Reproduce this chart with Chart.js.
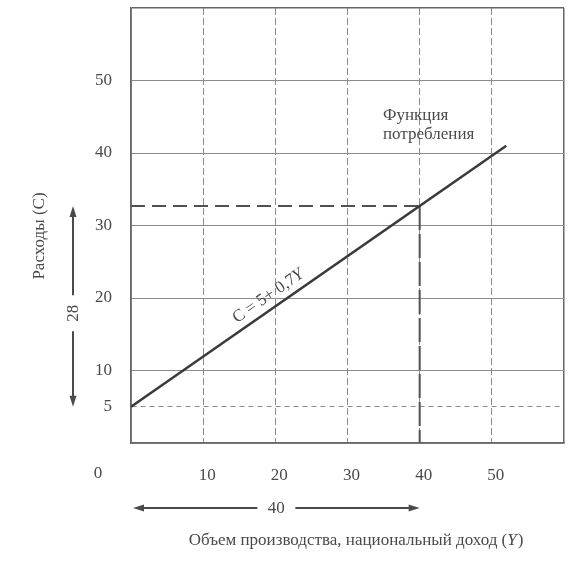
<!DOCTYPE html>
<html><head><meta charset="utf-8">
<script src="https://cdn.jsdelivr.net/npm/chart.js@4/dist/chart.umd.min.js"></script>
<style>html,body{margin:0;padding:0;background:#fff;overflow:hidden}</style>
</head><body>
<canvas id="c" width="585" height="565"></canvas>
<script>
// ---- data ----
const incomeY = [0, 52];            // Y values of the consumption function line
const consumptionC = [5, 41];       // C values of the consumption function line
const guideVX = [40, 40];           // vertical guide at Y = 40
const guideVC = [32.7, 0];
const guideHX = [0, 40];            // horizontal guide at C(40)
const guideHC = [32.7, 32.7];
const xTickValues = [0, 10, 20, 30, 40, 50, 60];
const xTickLabels = ['', '10', '20', '30', '40', '50', ''];
const yTickValues = [0, 5, 10, 20, 30, 40, 50, 60];
const yTickLabels = ['', '5', '10', '20', '30', '40', '50', ''];
const originLabel = '0';
const deltaCLabel = '28';
const deltaYLabel = '40';
const yTitle = 'Расходы (С)';
const xTitleMain = 'Объем производства, национальный доход (';
const xTitleVar = 'Y';
const xTitleEnd = ')';
const fnLabel = ['Функция', 'потребления'];
const formulaMain = 'C = 5+ 0,7';
const formulaVar = 'Y';

const FONT = '"Liberation Serif", "DejaVu Serif", serif';
const TXT = '#4a4a4a';

function pts(xs, ys) { return xs.map((x, i) => ({x: x, y: ys[i]})); }

function arrowHead(ctx, x, y, dir) { // dir: 'up','down','left','right'
  ctx.beginPath();
  const L = 11, W = 3.5;
  if (dir === 'up') { ctx.moveTo(x, y); ctx.lineTo(x - W, y + L); ctx.lineTo(x + W, y + L); }
  if (dir === 'down') { ctx.moveTo(x, y); ctx.lineTo(x - W, y - L); ctx.lineTo(x + W, y - L); }
  if (dir === 'left') { ctx.moveTo(x, y); ctx.lineTo(x + L, y - W); ctx.lineTo(x + L, y + W); }
  if (dir === 'right') { ctx.moveTo(x, y); ctx.lineTo(x - L, y - W); ctx.lineTo(x - L, y + W); }
  ctx.closePath(); ctx.fill();
}

const annotations = {
  id: 'annotations',
  afterDraw(chart) {
    const ctx = chart.ctx;
    const xs = chart.scales.x, ys = chart.scales.y;
    ctx.save();
    ctx.fillStyle = TXT; ctx.strokeStyle = '#4a4a4a';
    ctx.font = '17px ' + FONT;

    // origin label
    ctx.textAlign = 'center'; ctx.textBaseline = 'middle';
    ctx.fillText(originLabel, xs.getPixelForValue(0) - 33, 474);

    // y title
    ctx.save();
    ctx.translate(40, 236); ctx.rotate(-Math.PI / 2);
    ctx.fillText(yTitle, 0, 0);
    ctx.restore();

    // vertical delta arrow (28)
    const ax = 73;
    const yTop = ys.getPixelForValue(guideHC[0]);
    const yBot = ys.getPixelForValue(consumptionC[0]);
    const yMid = (yTop + yBot) / 2 + 7;
    ctx.lineWidth = 2;
    ctx.beginPath(); ctx.moveTo(ax, yTop + 4); ctx.lineTo(ax, yMid - 18); ctx.stroke();
    ctx.beginPath(); ctx.moveTo(ax, yMid + 18); ctx.lineTo(ax, yBot - 4); ctx.stroke();
    arrowHead(ctx, ax, yTop, 'up');
    arrowHead(ctx, ax, yBot, 'down');
    ctx.save(); ctx.translate(ax, yMid); ctx.rotate(-Math.PI / 2);
    ctx.fillText(deltaCLabel, 0, 1); ctx.restore();

    // horizontal delta arrow (40)
    const ay = 508;
    const xL = xs.getPixelForValue(guideHX[0]) + 2;
    const xR = xs.getPixelForValue(guideHX[1]);
    const xMid = (xL + xR) / 2;
    ctx.beginPath(); ctx.moveTo(xL + 4, ay); ctx.lineTo(xMid - 19, ay); ctx.stroke();
    ctx.beginPath(); ctx.moveTo(xMid + 19, ay); ctx.lineTo(xR - 4, ay); ctx.stroke();
    arrowHead(ctx, xL, ay, 'left');
    arrowHead(ctx, xR, ay, 'right');
    ctx.fillText(deltaYLabel, xMid, ay + 1);

    // x title with italic Y
    ctx.textAlign = 'left';
    const fN = '17px ' + FONT, fI = 'italic 17px ' + FONT;
    ctx.font = fN; const w1 = ctx.measureText(xTitleMain).width; const w3 = ctx.measureText(xTitleEnd).width;
    ctx.font = fI; const w2 = ctx.measureText(xTitleVar).width + 1;
    let tx = 356 - (w1 + w2 + w3) / 2;
    const ty = 541;
    ctx.font = fN; ctx.fillText(xTitleMain, tx, ty);
    ctx.font = fI; ctx.fillText(xTitleVar, tx + w1, ty);
    ctx.font = fN; ctx.fillText(xTitleEnd, tx + w1 + w2, ty);

    // function label
    ctx.textAlign = 'left';
    ctx.fillText(fnLabel[0], 383, 116);
    ctx.fillText(fnLabel[1], 383, 135);

    // formula along the line
    const p0x = xs.getPixelForValue(incomeY[0]), p0y = ys.getPixelForValue(consumptionC[0]);
    const p1x = xs.getPixelForValue(incomeY[1]), p1y = ys.getPixelForValue(consumptionC[1]);
    const ang = Math.atan2(p1y - p0y, p1x - p0x);
    const t = 20.0 / incomeY[1];
    const cx = p0x + (p1x - p0x) * t, cy = p0y + (p1y - p0y) * t;
    ctx.save();
    ctx.translate(cx, cy); ctx.rotate(ang);
    ctx.font = '17px ' + FONT;
    const fw1 = ctx.measureText(formulaMain).width;
    ctx.font = 'italic 17px ' + FONT;
    const fw2 = ctx.measureText(formulaVar).width;
    const sx = -(fw1 + fw2) / 2;
    ctx.textBaseline = 'alphabetic';
    ctx.font = '17px ' + FONT; ctx.fillText(formulaMain, sx, -8);
    ctx.font = 'italic 17px ' + FONT; ctx.fillText(formulaVar, sx + fw1, -8);
    ctx.restore();

    ctx.restore();
  }
};

new Chart(document.getElementById('c'), {
  type: 'scatter',
  data: {
    datasets: [
      { data: pts(guideHX, guideHC), showLine: true, borderColor: '#505050', borderWidth: 2,
        borderDash: [14, 7], pointRadius: 0, order: 3 },
      { data: pts(guideVX, guideVC), showLine: true, borderColor: '#505050', borderWidth: 2,
        borderDash: [24, 4], pointRadius: 0, order: 2 },
      { data: pts(incomeY, consumptionC), showLine: true, borderColor: '#3a3a3a', borderWidth: 2.6,
        pointRadius: 0, order: 1 }
    ]
  },
  options: {
    responsive: false,
    animation: false,
    events: [],
    layout: { padding: { left: 0, top: 8, right: 21, bottom: 0 } },
    plugins: { legend: { display: false }, tooltip: { enabled: false } },
    scales: {
      x: {
        type: 'linear', min: 0, max: 60,
        afterBuildTicks: s => { s.ticks = xTickValues.map(v => ({value: v})); },
        afterFit: s => { s.height = 122; s.paddingLeft = 0; s.paddingRight = 0; s.paddingTop = 0; s.paddingBottom = 0; },
        ticks: { autoSkip: false, maxRotation: 0, padding: 22, labelOffset: 4, color: TXT,
                 font: { family: FONT, size: 17 },
                 callback: (v, i) => xTickLabels[i] },
        grid: {
          drawTicks: false,
          color: c => (c.tick && c.tick.value === 60) ? '#666' : '#8c8c8c',
          lineWidth: c => (c.tick && c.tick.value === 60) ? 1.5 : 1
        },
        border: { display: true, color: '#666', width: 1.5,
          dash: c => (c.tick && c.tick.value !== 60 && c.tick.value !== 0) ? [7, 3] : [] }
      },
      y: {
        type: 'linear', min: 0, max: 60,
        afterBuildTicks: s => { s.ticks = yTickValues.map(v => ({value: v})); },
        afterFit: s => { s.width = 131; s.paddingLeft = 0; s.paddingRight = 0; s.paddingTop = 0; s.paddingBottom = 0; },
        ticks: { autoSkip: false, padding: 19, color: TXT,
                 font: { family: FONT, size: 17 },
                 callback: (v, i) => yTickLabels[i] },
        grid: {
          drawTicks: false,
          color: c => (c.tick && c.tick.value === 60) ? '#666' : '#8c8c8c',
          lineWidth: c => (c.tick && c.tick.value === 60) ? 1.5 : 1
        },
        border: { display: true, color: '#666', width: 1.5,
          dash: c => (c.tick && c.tick.value === 5) ? [5, 4] : [] }
      }
    }
  },
  plugins: [annotations]
});
</script>
</body></html>
